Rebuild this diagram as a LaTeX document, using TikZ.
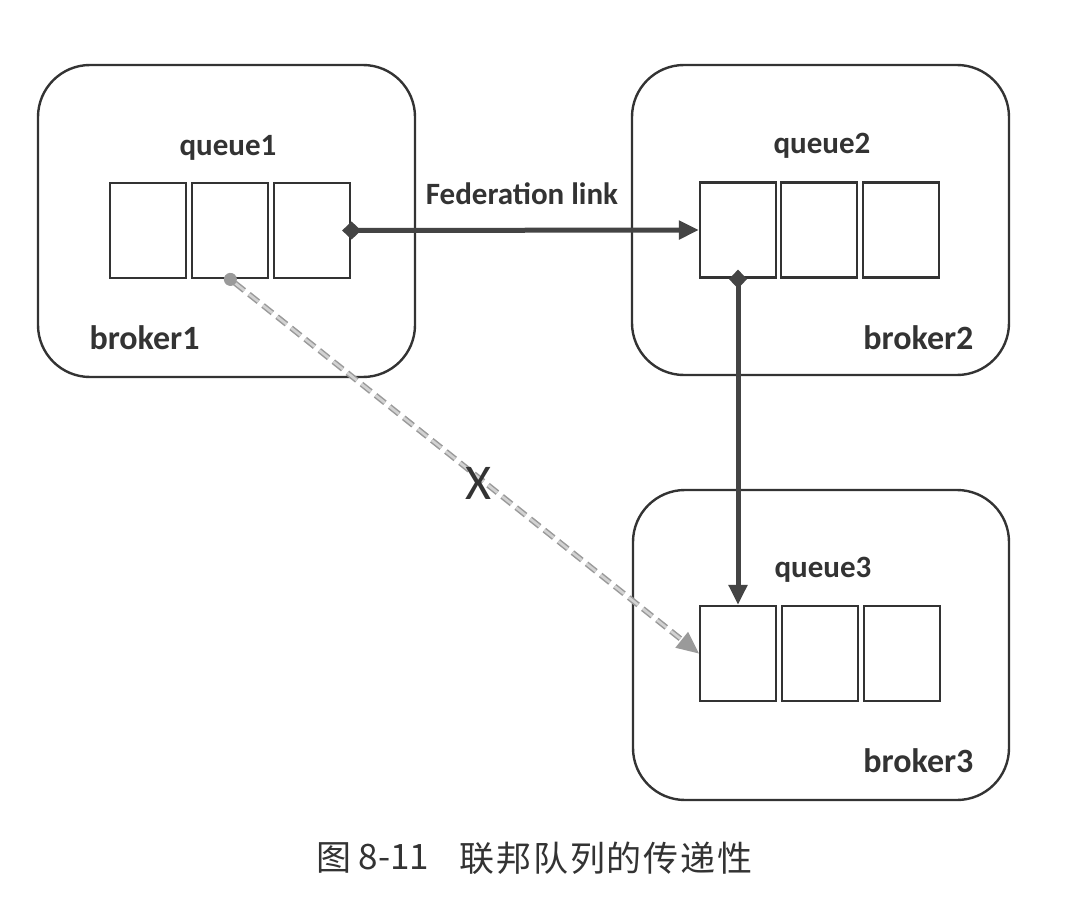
\documentclass[tikz,border=0pt]{standalone}
\usepackage{fontspec}
\setmainfont{Carlito}
\newfontfamily\cjk{Noto Sans CJK SC}
\usetikzlibrary{arrows.meta}
\definecolor{ink}{HTML}{333333}
\definecolor{lnk}{HTML}{444444}
\definecolor{dsh}{HTML}{9A9A9A}
\begin{document}
\begin{tikzpicture}[x=1pt,y=-1pt,
  broker/.style={draw=ink, line width=2.4pt, rounded corners=52pt, inner sep=0pt},
  cell/.style={draw=ink, line width=2.2pt, minimum width=76pt, minimum height=95pt, inner sep=0pt},
  qlabel/.style={text=ink, font=\bfseries\fontsize{31}{34}\selectfont},
  blabel/.style={text=ink, font=\bfseries\fontsize{34}{38}\selectfont},
  fedline/.style={draw=lnk, line width=5pt, shorten <=-9pt, {Diamond[length=19pt,width=18pt]}-{Triangle[length=20pt,width=18pt]}},
  dashline/.style={draw=dsh, line width=1.5pt, double=dsh!45, double distance=2.6pt, dash pattern=on 12pt off 6pt, shorten <=-6pt, {Circle[length=13pt,fill=dsh]}-{Triangle[length=22pt,width=20pt,fill=dsh]}}
]
\useasboundingbox (0,0) rectangle (1080,923);
\fill[white] (0,0) rectangle (1080,923);
% brokers
\node[broker, minimum width=377pt, minimum height=312pt] (b1) at (226.5,221) {};
\node[broker, minimum width=377pt, minimum height=310pt] (b2) at (820.5,220) {};
\node[broker, minimum width=376pt, minimum height=310pt] (b3) at (821,645) {};
% queue1
\node[cell] (q1a) at (148,230.5) {};
\node[cell] (q1b) at (230,230.5) {};
\node[cell] (q1c) at (312,230.5) {};
% queue2
\node[cell] (q2a) at (738,230) {};
\node[cell] (q2b) at (819,230) {};
\node[cell] (q2c) at (901,230) {};
% queue3
\node[cell] (q3a) at (738,653.5) {};
\node[cell] (q3b) at (820,653.5) {};
\node[cell] (q3c) at (902,653.5) {};
% labels
\node[qlabel] (l1) at (228,148) {queue1};
\node[qlabel] (l2) at (822,146) {queue2};
\node[qlabel] (l3) at (823,570) {queue3};
\node[blabel, anchor=west] (n1) at (86,338) {broker1};
\node[blabel, anchor=east] (n2) at (977,338) {broker2};
\node[blabel, anchor=east] (n3) at (977,761) {broker3};
% connectors
\draw[fedline] (q1c.east) -- (q2a.west);
\node[text=ink, font=\bfseries\fontsize{31}{34}\selectfont] (fl) at (522,194) {Federation link};
\draw[fedline] (q2a.south) -- (q3a.north);
\draw[dashline] (q1b.south) -- (q3a.west);
\node[text=ink, font=\fontsize{50}{56}\selectfont] (x) at (478,483) {X};
% caption
\node[text=ink, font=\cjk\fontsize{35}{40}\selectfont] (c1) at (334,858) {图};
\node[text=ink, font=\cjk\fontsize{35}{40}\selectfont] (c2) at (394,857) {8-11};
\node[text=ink, font=\cjk\fontsize{35}{40}\selectfont\addfontfeatures{LetterSpace=5}] (c3) at (606,858) {联邦队列的传递性};
\end{tikzpicture}
\end{document}
